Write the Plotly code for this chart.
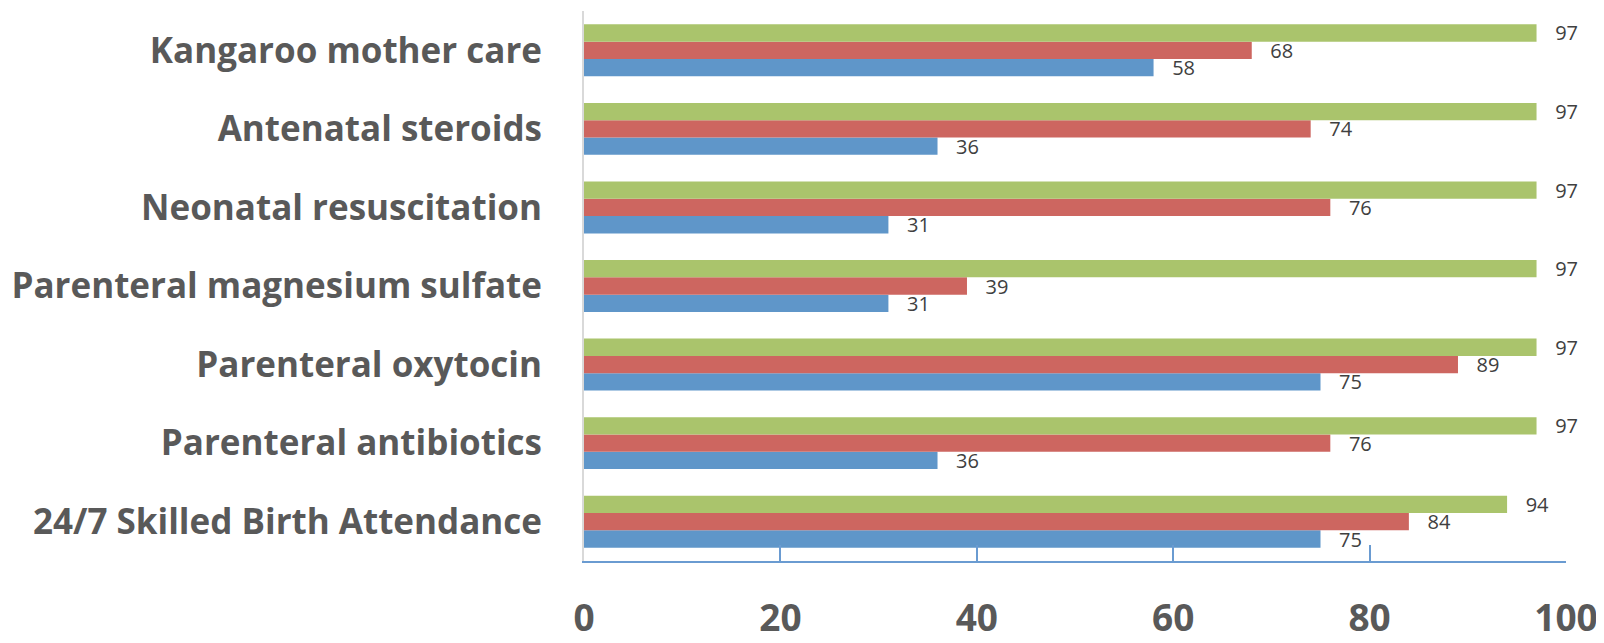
import plotly.graph_objects as go

categories = [
    "24/7 Skilled Birth Attendance",
    "Parenteral antibiotics",
    "Parenteral oxytocin",
    "Parenteral magnesium sulfate",
    "Neonatal resuscitation",
    "Antenatal steroids",
    "Kangaroo mother care",
]
blue_values = [75, 36, 75, 31, 31, 36, 58]
red_values = [84, 76, 89, 39, 76, 74, 68]
green_values = [94, 97, 97, 97, 97, 97, 97]
x_ticks = [0, 20, 40, 60, 80, 100]

series = [
    ("Series 1", blue_values, "#5F96C9"),
    ("Series 2", red_values, "#CD6660"),
    ("Series 3", green_values, "#AAC46C"),
]

fig = go.Figure()
for name, vals, col in series:
    fig.add_trace(go.Bar(
        y=categories, x=vals, name=name, orientation="h",
        marker=dict(color=col, line=dict(width=0)),
        text=vals,
        texttemplate="\u00a0\u00a0\u00a0%{x}",
        textposition="outside",
        constraintext="none",
        cliponaxis=False,
        textfont=dict(family="Open Sans", size=20, color="#404040"),
    ))

fig.update_layout(
    width=1596, height=635,
    margin=dict(l=576, r=38, t=3, b=82),
    plot_bgcolor="white", paper_bgcolor="white",
    barmode="group", bargap=0.339, bargroupgap=0,
    showlegend=False,
    xaxis=dict(
        range=[0, 100], tickvals=x_ticks, showgrid=False, zeroline=False,
        showline=True, linecolor="#6A9BD1", linewidth=2,
        ticks="inside", ticklen=16, tickcolor="#6A9BD1", tickwidth=2,
        ticklabelstandoff=24, automargin=False,
        tickfont=dict(family="Open Sans", size=37, color="#595959", weight="bold"),
    ),
    yaxis=dict(
        categoryorder="array", categoryarray=categories,
        showgrid=False, zeroline=False,
        showline=True, linecolor="#D9D9D9", linewidth=2,
        ticks="", ticklabelstandoff=33, automargin=False,
        tickfont=dict(family="Open Sans", size=35, color="#595959", weight="bold"),
    ),
)

fig.write_html("out.html")
